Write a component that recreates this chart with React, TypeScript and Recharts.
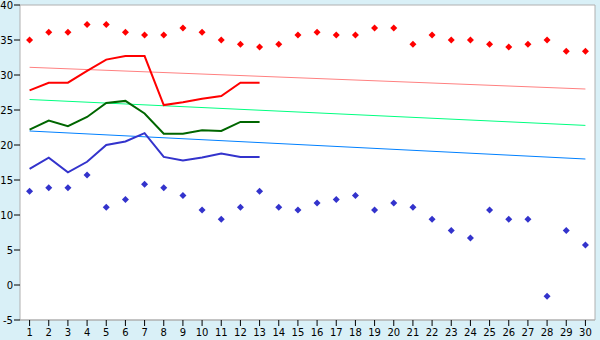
import { ComposedChart, Line, XAxis, YAxis, CartesianGrid } from "recharts";

const days = Array.from({ length: 30 }, (_, i) => i + 1);

// record highs / lows (scatter markers)
const recordHigh = [
  35.0, 36.1, 36.1, 37.2, 37.2, 36.1, 35.7, 35.7, 36.7, 36.1,
  35.0, 34.4, 34.0, 34.4, 35.7, 36.1, 35.7, 35.7, 36.7, 36.7,
  34.4, 35.7, 35.0, 35.0, 34.4, 34.0, 34.4, 35.0, 33.4, 33.4,
];
const recordLow = [
  13.4, 13.9, 13.9, 15.7, 11.1, 12.2, 14.4, 13.9, 12.8, 10.7,
  9.4, 11.1, 13.4, 11.1, 10.7, 11.7, 12.2, 12.8, 10.7, 11.7,
  11.1, 9.4, 7.8, 6.7, 10.7, 9.4, 9.4, -1.6, 7.8, 5.7,
];

// observed this month (days 1-13)
const maxTemp = [27.8, 28.9, 28.9, 30.6, 32.2, 32.7, 32.7, 25.7, 26.1, 26.6, 27.0, 28.9, 28.9];
const meanTemp = [22.2, 23.5, 22.7, 24.0, 26.0, 26.3, 24.5, 21.6, 21.6, 22.1, 22.0, 23.3, 23.3];
const minTemp = [16.6, 18.2, 16.1, 17.6, 20.0, 20.5, 21.7, 18.3, 17.8, 18.2, 18.8, 18.3, 18.3];

// normals: start and end of month
const normalMax = [31.1, 28.0];
const normalMean = [26.5, 22.8];
const normalMin = [22.0, 18.0];

const yTicks = [-5, 0, 5, 10, 15, 20, 25, 30, 35, 40];

const data = days.map((day, i) => {
  const last = i === days.length - 1;
  return {
    day,
    recordHigh: recordHigh[i],
    recordLow: recordLow[i],
    maxTemp: i < maxTemp.length ? maxTemp[i] : null,
    meanTemp: i < meanTemp.length ? meanTemp[i] : null,
    minTemp: i < minTemp.length ? minTemp[i] : null,
    normalMax: i === 0 ? normalMax[0] : last ? normalMax[1] : null,
    normalMean: i === 0 ? normalMean[0] : last ? normalMean[1] : null,
    normalMin: i === 0 ? normalMin[0] : last ? normalMin[1] : null,
  };
});

const diamond = (color: string) => (props: any) => {
  const { cx, cy, index } = props;
  if (cx == null || cy == null) return <g key={index} />;
  return (
    <polygon
      key={index}
      points={`${cx},${cy - 3.5} ${cx + 3.5},${cy} ${cx},${cy + 3.5} ${cx - 3.5},${cy}`}
      fill={color}
    />
  );
};

const tickStyle = { fill: "#000", fontSize: 10, fontFamily: "DejaVu Sans" };

export default function App() {
  return (
    <div style={{ position: "absolute", left: 0, top: 0, width: 600, height: 340, background: "#d9f0f7" }}>
      <ComposedChart
        width={600}
        height={340}
        data={data}
        margin={{ top: 5, right: 0, bottom: 0, left: 0 }}
      >
        <CartesianGrid vertical={false} stroke="#b0b0b0" fill="#ffffff" fillOpacity={1} />
        <XAxis
          dataKey="day"
          type="number"
          domain={[0.5, 30.5]}
          ticks={days}
          interval={0}
          height={20}
          tickSize={6}
          tickMargin={3}
          axisLine={{ stroke: "#b0b0b0" }}
          tickLine={{ stroke: "#000" }}
          tick={tickStyle}
        />
        <YAxis
          yAxisId="left"
          type="number"
          domain={[-5, 40]}
          ticks={yTicks}
          interval={0}
          width={20}
          tickSize={6}
          tickMargin={1}
          axisLine={{ stroke: "#b0b0b0" }}
          tickLine={{ stroke: "#000" }}
          tick={tickStyle}
        />
        <YAxis
          yAxisId="right"
          orientation="right"
          type="number"
          domain={[-5, 40]}
          width={5}
          tick={false}
          tickLine={false}
          axisLine={{ stroke: "#b0b0b0" }}
        />
        <Line yAxisId="left" dataKey="normalMax" stroke="#ff8080" strokeWidth={1} dot={false} connectNulls isAnimationActive={false} />
        <Line yAxisId="left" dataKey="normalMean" stroke="#00ff80" strokeWidth={1} dot={false} connectNulls isAnimationActive={false} />
        <Line yAxisId="left" dataKey="normalMin" stroke="#0080ff" strokeWidth={1} dot={false} connectNulls isAnimationActive={false} />
        <Line yAxisId="left" dataKey="maxTemp" type="linear" stroke="#ff0000" strokeWidth={2} dot={false} isAnimationActive={false} />
        <Line yAxisId="left" dataKey="meanTemp" type="linear" stroke="#006600" strokeWidth={2} dot={false} isAnimationActive={false} />
        <Line yAxisId="left" dataKey="minTemp" type="linear" stroke="#3333cc" strokeWidth={2} dot={false} isAnimationActive={false} />
        <Line yAxisId="left" dataKey="recordHigh" stroke="none" dot={diamond("#ff0000")} activeDot={false} isAnimationActive={false} />
        <Line yAxisId="left" dataKey="recordLow" stroke="none" dot={diamond("#3333cc")} activeDot={false} isAnimationActive={false} />
      </ComposedChart>
    </div>
  );
}
